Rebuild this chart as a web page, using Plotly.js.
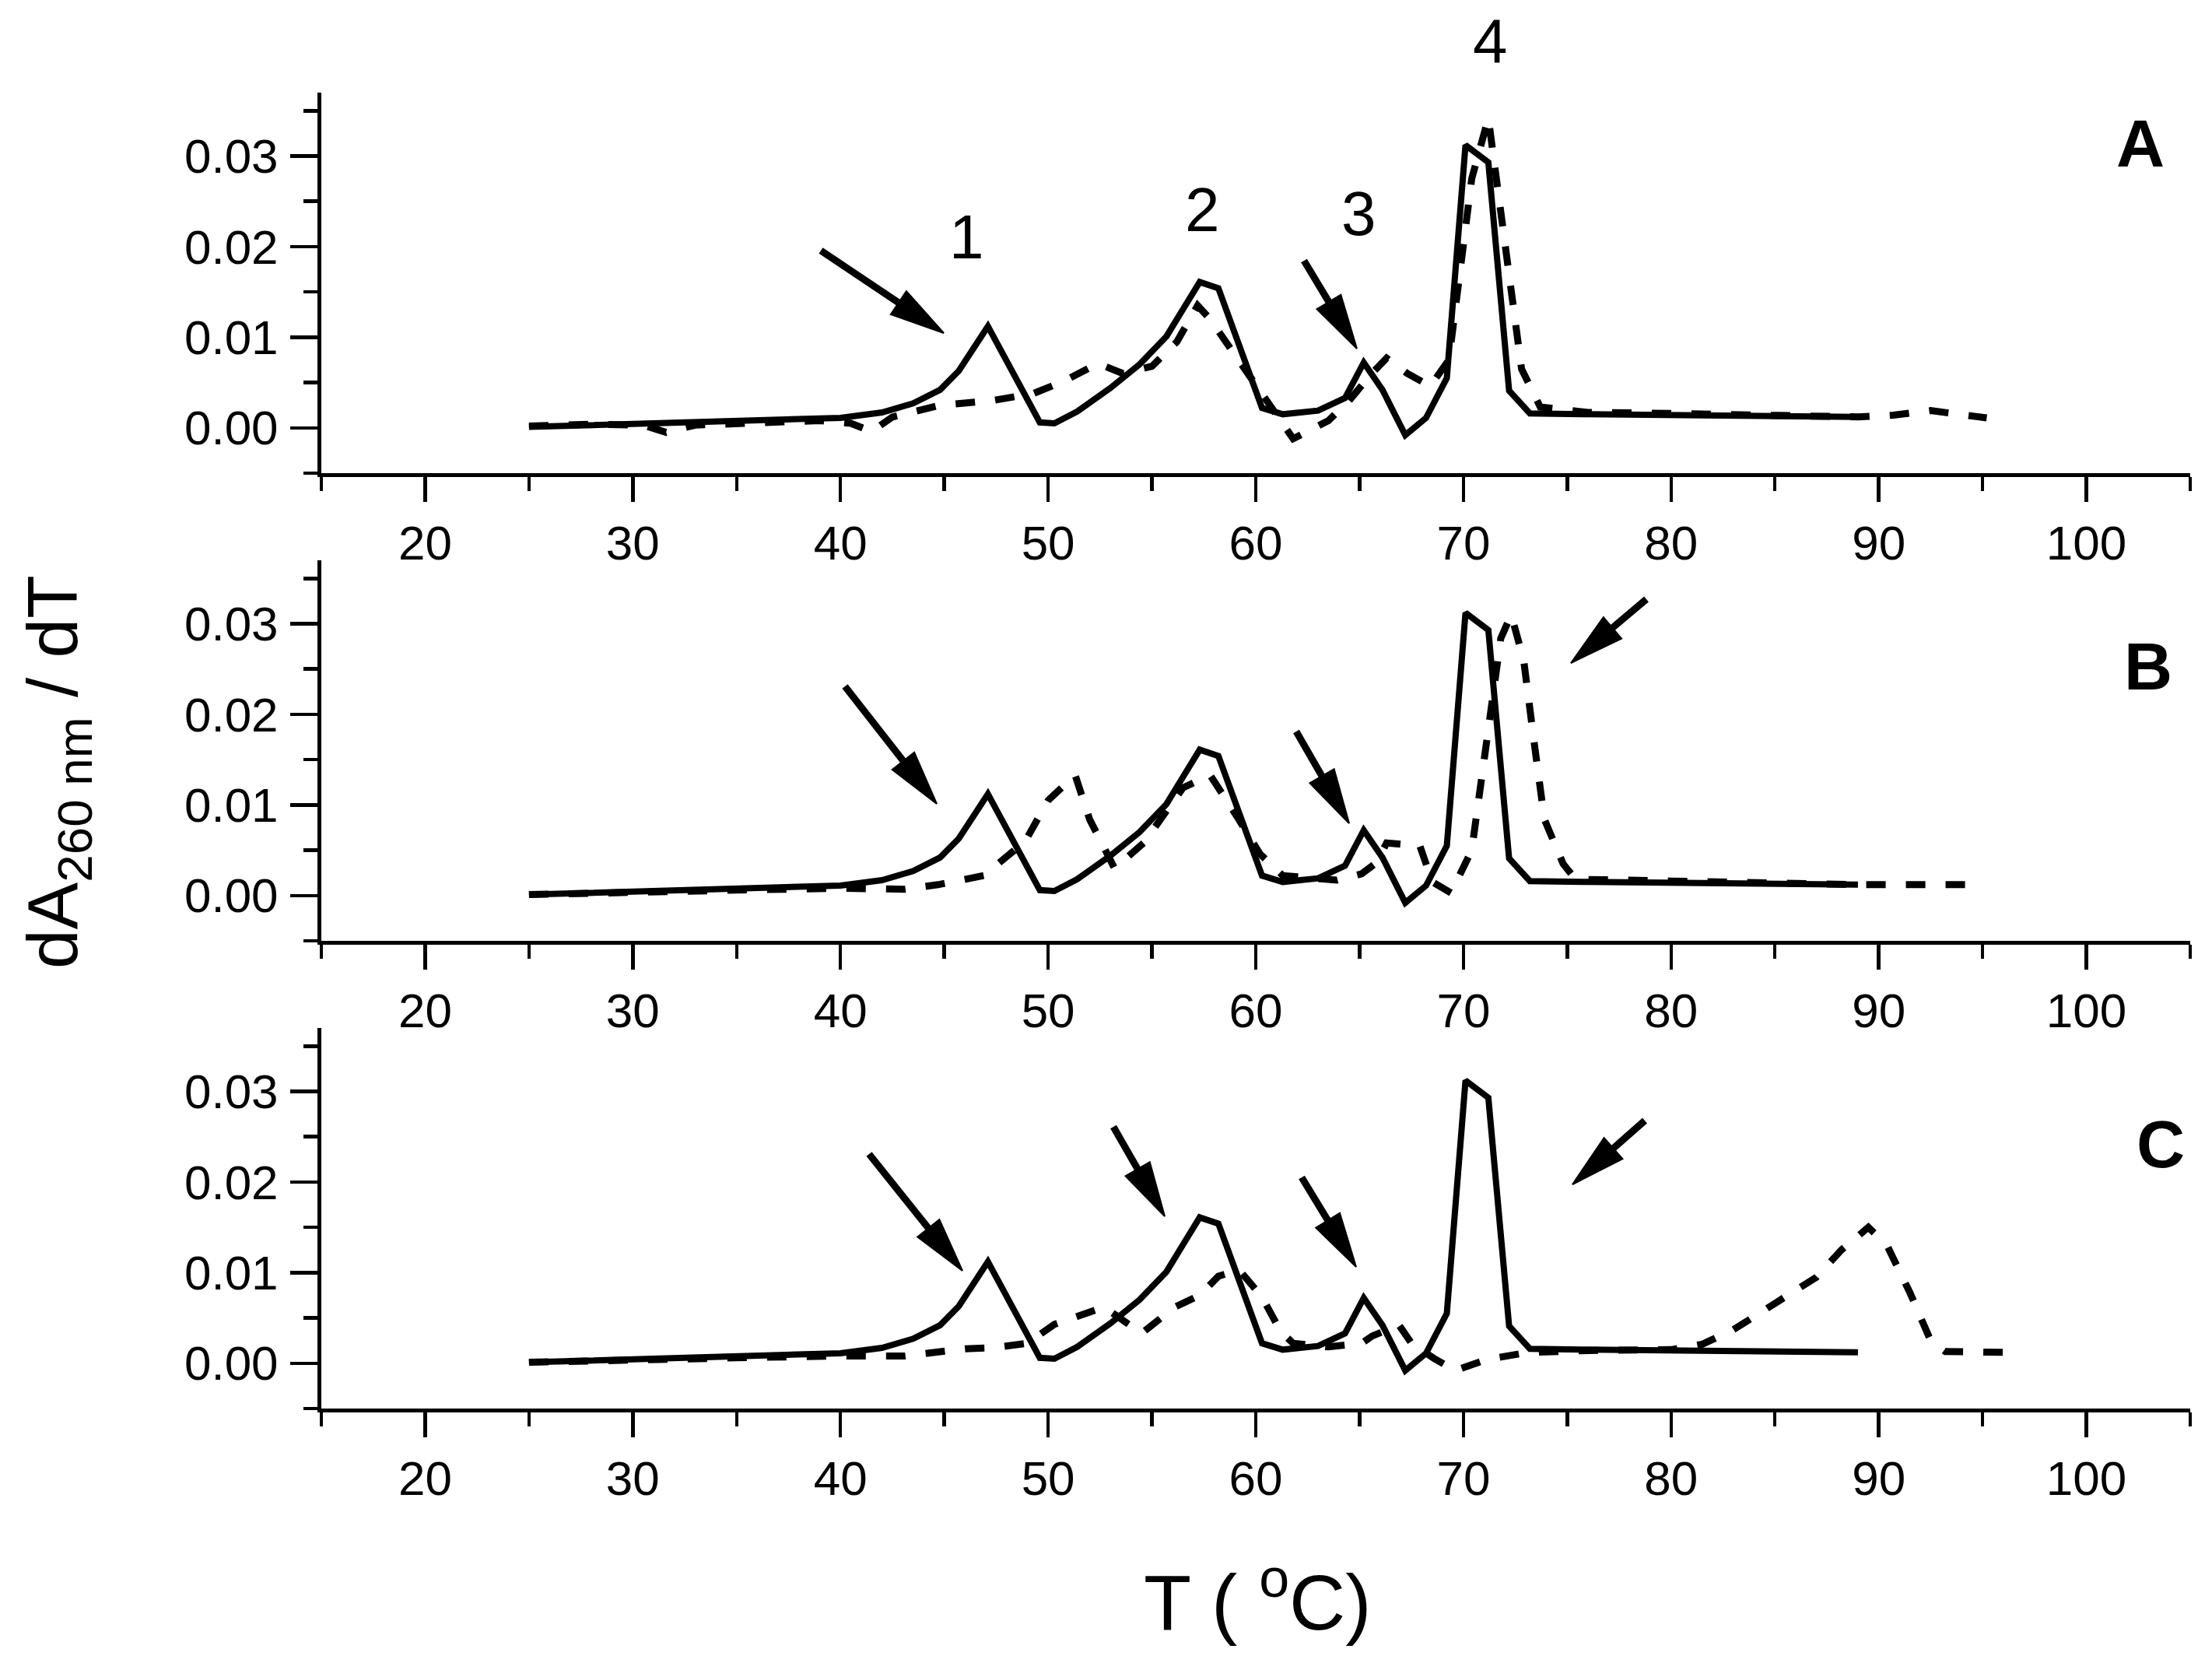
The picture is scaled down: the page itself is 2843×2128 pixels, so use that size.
<!DOCTYPE html>
<html>
<head>
<meta charset="utf-8">
<script src="https://cdn.plot.ly/plotly-3.0.1.min.js"></script>
<style>html,body{margin:0;padding:0;background:#fff;}#chart{width:2843px;height:2128px;}</style>
</head>
<body>
<div id="chart"></div>
<script>
// ---------------- data ----------------
// Reference (solid) curve, identical in all three panels
const T_ref  = [25, 28, 32, 36, 40, 42, 43.5, 44.8, 45.7, 47.1, 49.6, 50.3, 51.4, 53, 54.4, 55.7, 56.8, 57.3, 58.2, 60.3, 61.3, 63, 64.3, 65.2, 66.1, 67.2, 68.2, 69.2, 70.1, 71.2, 72.2, 73.2, 76, 80, 85, 89];
const dA_ref = [0.0001, 0.0003, 0.0005, 0.0007, 0.0011, 0.0017, 0.0027, 0.0042, 0.0063, 0.0112, 0.0006, 0.0005, 0.0018, 0.0044, 0.0070, 0.0101, 0.0141, 0.0161, 0.0154, 0.0022, 0.0015, 0.0019, 0.0033, 0.0072, 0.0042, -0.0008, 0.0011, 0.0055, 0.0312, 0.0293, 0.0041, 0.0016, 0.0015, 0.0014, 0.0013, 0.0012];

// Panel A dashed curve
const T_A  = [25, 28, 30.5, 31.6, 33, 36, 39, 40.5, 41.5, 42.5, 44.8, 47.3, 49.3, 50.7, 52.4, 53.6, 55, 56.2, 57.2, 57.8, 59.5, 60.5, 61.8, 63.5, 64.5, 65.5, 66.3, 67.3, 68.4, 69.3, 70.4, 71.2, 71.9, 72.8, 73.7, 76, 80, 85, 89, 90.7, 92.5, 95.2];
const dA_A = [0.0002, 0.0004, 0.0003, -0.0005, 0.0003, 0.0006, 0.0008, 0.0005, -0.0004, 0.0012, 0.0025, 0.0030, 0.0038, 0.0051, 0.0071, 0.0060, 0.0068, 0.0095, 0.0135, 0.0120, 0.0065, 0.0030, -0.0012, 0.0008, 0.0030, 0.0058, 0.0077, 0.0060, 0.0046, 0.0075, 0.0275, 0.0342, 0.0220, 0.0065, 0.0023, 0.0017, 0.0016, 0.0014, 0.0012, 0.0014, 0.0019, 0.0011];

// Panel B dashed curve
const T_B  = [25, 30, 35, 40, 43.1, 44.7, 46.9, 48.9, 50.0, 51.3, 52.0, 53.2, 54.6, 56.5, 57.8, 59.1, 60.2, 61.3, 63.9, 65.1, 65.8, 66.3, 67.9, 68.5, 69.4, 70.4, 71.1, 71.8, 72.3, 72.9, 73.4, 73.9, 74.8, 75.4, 80, 85, 89, 94.4];
const dA_B = [0.0001, 0.0004, 0.0006, 0.0008, 0.0007, 0.0012, 0.0022, 0.0060, 0.0105, 0.0133, 0.0084, 0.0030, 0.0058, 0.0119, 0.0133, 0.0087, 0.0046, 0.0022, 0.0017, 0.0024, 0.0036, 0.0058, 0.0055, 0.0015, 0.0003, 0.0050, 0.0161, 0.0284, 0.0310, 0.0260, 0.0170, 0.0084, 0.0035, 0.0018, 0.0016, 0.0014, 0.0012, 0.0012];

// Panel C dashed curve
const T_C  = [25, 30, 35, 40, 43.1, 46, 47.3, 49.0, 50.3, 52.7, 54.5, 56.1, 57.3, 58.2, 59.2, 60.3, 61.2, 61.8, 63.5, 65.1, 65.6, 66.9, 67.5, 68.6, 69.6, 71.1, 73.1, 76, 80, 81.5, 83, 85, 87, 88.2, 89.5, 90.4, 91.5, 92.5, 93.2, 96.1];
const dA_C = [0.0001, 0.0004, 0.0006, 0.0008, 0.0008, 0.0016, 0.0017, 0.0022, 0.0043, 0.0062, 0.0033, 0.0062, 0.0075, 0.0096, 0.0103, 0.0073, 0.0035, 0.0022, 0.0018, 0.0022, 0.0030, 0.0042, 0.0022, 0.0005, -0.0008, 0.0004, 0.0012, 0.0014, 0.0015, 0.0021, 0.0037, 0.0066, 0.0095, 0.0125, 0.0150, 0.0130, 0.0078, 0.0025, 0.0013, 0.0012];

const xTickVals = [20, 30, 40, 50, 60, 70, 80, 90, 100];
const yTickVals = [0.00, 0.01, 0.02, 0.03];
const peakLabels = ['1', '2', '3', '4'];
const panelLabels = ['A', 'B', 'C'];

// ---------------- layout ----------------
const W = 2843, H = 2128;
const FONT = 'Liberation Sans, Arial, Helvetica, sans-serif';
const px = x => x / W;
const py = y => 1 - y / H;

const xDom = [px(413), px(2815)];
const yDoms = [[py(608), py(119)], [py(1209), py(720)], [py(1810), py(1321)]];

function xAxis(anchor) {
  return {
    domain: xDom, range: [15, 105], anchor: anchor,
    showline: true, linewidth: 5, linecolor: '#000', mirror: false,
    showgrid: false, zeroline: false,
    ticks: 'outside', ticklen: 32, tickwidth: 4.5, tickcolor: '#000',
    tickmode: 'array', tickvals: xTickVals, ticktext: xTickVals.map(String),
    ticklabelstandoff: 0,
    minor: {tickmode: 'linear', tick0: 0, dtick: 5, ticks: 'outside', ticklen: 18, tickwidth: 4.5, tickcolor: '#000', showgrid: false},
    tickfont: {family: FONT, size: 62, color: '#000'}
  };
}
function yAxis(dom, anchor) {
  return {
    domain: dom, range: [-0.005, 0.037], anchor: anchor,
    showline: true, linewidth: 5, linecolor: '#000', mirror: false,
    showgrid: false, zeroline: false,
    ticks: 'outside', ticklen: 35, tickwidth: 4.5, tickcolor: '#000',
    tickmode: 'array', tickvals: yTickVals, ticktext: yTickVals.map(v => v.toFixed(2)),
    ticklabelstandoff: 3,
    minor: {tickmode: 'linear', tick0: 0, dtick: 0.005, ticks: 'outside', ticklen: 18, tickwidth: 4.5, tickcolor: '#000', showgrid: false},
    tickfont: {family: FONT, size: 62, color: '#000'}
  };
}

const solidLine = {color: '#000', width: 8};
const dashLine = {color: '#000', width: 9, dash: '25px,26px'};

const traces = [];
const dashed = [[T_A, dA_A], [T_B, dA_B], [T_C, dA_C]];
['', '2', '3'].forEach((s, i) => {
  traces.push({x: dashed[i][0], y: dashed[i][1], xaxis: 'x' + s, yaxis: 'y' + s, mode: 'lines', line: dashLine, hoverinfo: 'skip'});
  traces.push({x: T_ref, y: dA_ref, xaxis: 'x' + s, yaxis: 'y' + s, mode: 'lines', line: solidLine, hoverinfo: 'skip'});
});

// arrows (decorations, pixel positions of tail -> tip)
const arrows = [
  [1055, 322, 1213, 428], [1676, 335, 1744, 448],
  [1086, 882, 1204, 1033], [1666, 940, 1734, 1058], [2116, 770, 2019, 852],
  [1117, 1483, 1237, 1633], [1431, 1448, 1497, 1563], [1673, 1513, 1743, 1628], [2114, 1440, 2021, 1522]
];
const shapes = [];
arrows.forEach(([tx, ty, hx, hy]) => {
  const L = 70, hw = 18;
  const d = Math.hypot(hx - tx, hy - ty);
  const ux = (hx - tx) / d, uy = (hy - ty) / d;
  const bx = hx - L * ux, by = hy - L * uy;
  const nx = -uy, ny = ux;
  shapes.push({type: 'line', xref: 'paper', yref: 'paper', x0: px(tx), y0: py(ty), x1: px(bx + 6 * ux), y1: py(by + 6 * uy), line: {color: '#000', width: 9}});
  const path = 'M' + px(hx) + ',' + py(hy) + ' L' + px(bx + hw * nx) + ',' + py(by + hw * ny) + ' L' + px(bx - hw * nx) + ',' + py(by - hw * ny) + ' Z';
  shapes.push({type: 'path', xref: 'paper', yref: 'paper', path: path, fillcolor: '#000', line: {color: '#000', width: 2}});
});

const annotations = [];
// peak numbers in panel A
const peakPos = [[1242, 305], [1545, 270], [1746, 274], [1915, 52]];
peakLabels.forEach((t, i) => annotations.push({xref: 'paper', yref: 'paper', x: px(peakPos[i][0]), y: py(peakPos[i][1]), text: t, showarrow: false, xanchor: 'center', yanchor: 'middle', font: {family: FONT, size: 80, color: '#000'}}));
// panel letters
const panelPos = [[2751, 184], [2761, 856], [2777, 1470]];
panelLabels.forEach((t, i) => annotations.push({xref: 'paper', yref: 'paper', x: px(panelPos[i][0]), y: py(panelPos[i][1]), text: '<b>' + t + '</b>', showarrow: false, xanchor: 'center', yanchor: 'middle', font: {family: FONT, size: 86, color: '#000'}}));
// axis titles
annotations.push({xref: 'paper', yref: 'paper', x: px(1616), y: py(2052), text: 'T ( <sup>o</sup>C)', showarrow: false, xanchor: 'center', yanchor: 'middle', font: {family: FONT, size: 100, color: '#000'}});
annotations.push({xref: 'paper', yref: 'paper', x: px(74), y: py(992), text: 'dA<sub>260 nm</sub> / dT', textangle: -90, showarrow: false, xanchor: 'center', yanchor: 'middle', font: {family: FONT, size: 91, color: '#000'}});

const layout = {
  width: W, height: H,
  margin: {l: 0, r: 0, t: 0, b: 0, pad: 0},
  paper_bgcolor: '#fff', plot_bgcolor: 'rgba(0,0,0,0)',
  showlegend: false,
  xaxis: xAxis('y'), xaxis2: xAxis('y2'), xaxis3: xAxis('y3'),
  yaxis: yAxis(yDoms[0], 'x'), yaxis2: yAxis(yDoms[1], 'x2'), yaxis3: yAxis(yDoms[2], 'x3'),
  shapes: shapes, annotations: annotations
};

Plotly.newPlot('chart', traces, layout, {staticPlot: true, displayModeBar: false});
</script>
</body>
</html>
